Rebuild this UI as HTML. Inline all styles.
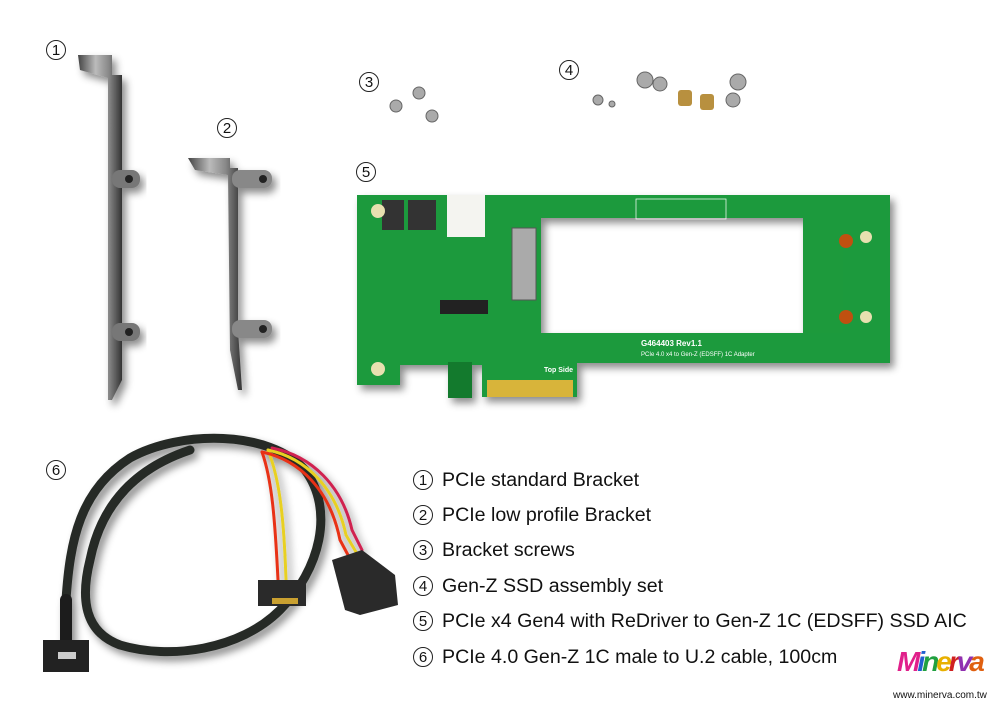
<!DOCTYPE html>
<html><head><style>
body{margin:0;width:1000px;height:707px;background:#fff;overflow:hidden;position:relative;font-family:"Liberation Sans",sans-serif}
.n{position:absolute;font-size:16px;color:#111}
.c{display:inline-block;width:20px;height:20px;border:1.3px solid #222;border-radius:50%;text-align:center;line-height:19px;font-size:15px;box-sizing:border-box}
.li{position:absolute;left:413px;font-size:19.6px;color:#111;white-space:nowrap}
.li .c{margin-right:9px;vertical-align:1px}
</style></head><body>
<svg width="1000" height="707" style="position:absolute;left:0;top:0">
<defs>
<linearGradient id="met" x1="0" x2="1"><stop offset="0" stop-color="#444"/><stop offset=".4" stop-color="#bbb"/><stop offset=".7" stop-color="#888"/><stop offset="1" stop-color="#333"/></linearGradient>
<filter id="sh"><feDropShadow dx="4" dy="5" stdDeviation="4" flood-opacity=".45"/></filter>
</defs>
<g filter="url(#sh)">
<path d="M78 55 L112 55 L112 75 L122 75 L122 380 L112 400 L108 400 L108 78 L80 70 Z" fill="url(#met)"/>
<rect x="112" y="170" width="28" height="18" rx="8" fill="#777"/>
<rect x="112" y="323" width="28" height="18" rx="8" fill="#777"/>
<circle cx="129" cy="179" r="4" fill="#222"/><circle cx="129" cy="332" r="4" fill="#222"/>
</g>
<g filter="url(#sh)">
<path d="M188 158 L230 158 L230 168 L238 168 L238 330 L242 390 L238 390 L230 350 L228 175 L195 170 Z" fill="url(#met)"/>
<rect x="232" y="170" width="40" height="18" rx="8" fill="#888"/>
<rect x="232" y="320" width="40" height="18" rx="8" fill="#888"/>
<circle cx="263" cy="179" r="4" fill="#222"/><circle cx="263" cy="329" r="4" fill="#222"/>
</g>
<g fill="#aaa" stroke="#666">
<circle cx="396" cy="106" r="6"/><circle cx="419" cy="93" r="6"/><circle cx="432" cy="116" r="6"/>
<circle cx="598" cy="100" r="5"/><circle cx="612" cy="104" r="3"/><circle cx="645" cy="80" r="8"/><circle cx="660" cy="84" r="7"/>
<circle cx="738" cy="82" r="8"/><circle cx="733" cy="100" r="7"/>
</g>
<rect x="678" y="90" width="14" height="16" rx="3" fill="#b8903f"/><rect x="700" y="94" width="14" height="16" rx="3" fill="#b8903f"/>
<g filter="url(#sh)">
<path d="M357 195 L890 195 L890 363 L577 363 L577 397 L482 397 L482 365 L472 365 L472 398 L448 398 L448 365 L400 365 L400 385 L357 385 Z M541 218 L541 333 L803 333 L803 218 Z" fill="#1d9a3c" fill-rule="evenodd"/>
</g>
<rect x="448" y="362" width="24" height="36" fill="#137a2d"/>
<rect x="487" y="380" width="86" height="17" fill="#d8b43a"/>
<rect x="803" y="230" width="40" height="103" fill="#1d9a3c"/>
<rect x="447" y="195" width="38" height="42" fill="#f4f4f0"/>
<rect x="512" y="228" width="24" height="72" fill="#aaa" stroke="#555"/>
<rect x="440" y="300" width="48" height="14" fill="#222"/>
<rect x="408" y="200" width="28" height="30" fill="#333"/><rect x="382" y="200" width="22" height="30" fill="#333"/>
<circle cx="378" cy="211" r="7" fill="#e8e0b0"/><circle cx="378" cy="369" r="7" fill="#e8e0b0"/>
<circle cx="846" cy="241" r="7" fill="#c05010"/><circle cx="846" cy="317" r="7" fill="#c05010"/>
<circle cx="866" cy="237" r="6" fill="#e8e0b0"/><circle cx="866" cy="317" r="6" fill="#e8e0b0"/>
<text x="641" y="346" font-size="8" fill="#fff" font-weight="bold" font-family="Liberation Sans">G464403 Rev1.1</text>
<text x="641" y="356" font-size="6" fill="#fff" font-family="Liberation Sans">PCIe 4.0 x4 to Gen-Z (EDSFF) 1C Adapter</text>
<text x="544" y="372" font-size="7" fill="#fff" font-weight="bold" font-family="Liberation Sans">Top Side</text>
<rect x="636" y="199" width="90" height="20" fill="none" stroke="#fff" stroke-width=".7"/>
<!-- cable -->
<g fill="none" stroke-linecap="round" filter="url(#sh)">
<path d="M66 600 C70 540 80 490 130 458 C180 430 270 430 305 470 C335 510 320 570 280 610 C240 650 170 660 120 645 C85 632 80 600 90 560 C100 510 130 470 190 450" stroke="#262a26" stroke-width="9"/>
<path d="M66 600 L66 640" stroke="#1a1a1a" stroke-width="12"/>
<path d="M262 452 C272 480 275 520 278 580" stroke="#e83018" stroke-width="3"/>
<path d="M268 450 C280 480 284 520 286 580" stroke="#e8d020" stroke-width="3"/>
<path d="M262 452 C300 460 330 490 340 540 L348 555" stroke="#e83018" stroke-width="3"/>
<path d="M268 450 C306 458 336 488 346 535 L356 552" stroke="#e8d020" stroke-width="3"/>
<path d="M272 448 C312 456 342 486 352 530 L362 550" stroke="#d02050" stroke-width="3"/>
</g>
<rect x="43" y="640" width="46" height="32" fill="#222"/>
<rect x="58" y="652" width="18" height="7" fill="#ccc"/>
<rect x="258" y="580" width="48" height="26" fill="#2a2a2a"/>
<rect x="272" y="598" width="26" height="6" fill="#c9a030"/>
<path d="M332 560 L362 550 L395 575 L398 605 L360 615 L345 610 Z" fill="#2a2a2a"/>
</svg>
<div class="n" style="left:46px;top:40px"><span class="c">1</span></div>
<div class="n" style="left:217px;top:118px"><span class="c">2</span></div>
<div class="n" style="left:359px;top:72px"><span class="c">3</span></div>
<div class="n" style="left:559px;top:60px"><span class="c">4</span></div>
<div class="n" style="left:356px;top:162px"><span class="c">5</span></div>
<div class="n" style="left:46px;top:460px"><span class="c">6</span></div>
<div class="li" style="top:469px"><span class="c">1</span>PCIe standard Bracket</div>
<div class="li" style="top:504px"><span class="c">2</span>PCIe low profile Bracket</div>
<div class="li" style="top:539px"><span class="c">3</span>Bracket screws</div>
<div class="li" style="top:575px"><span class="c">4</span>Gen-Z SSD assembly set</div>
<div class="li" style="top:610px"><span class="c">5</span>PCIe x4 Gen4 with ReDriver to Gen-Z 1C (EDSFF) SSD AIC</div>
<div class="li" style="top:646px"><span class="c">6</span>PCIe 4.0 Gen-Z 1C male to U.2 cable, 100cm</div>
<div style="position:absolute;left:897px;top:646px;font:italic bold 28px 'Liberation Sans',sans-serif;letter-spacing:-3px"><span style="color:#e0208a">M</span><span style="color:#2060d0">i</span><span style="color:#20a040">n</span><span style="color:#e8b000">e</span><span style="color:#d02020">r</span><span style="color:#9030b0">v</span><span style="color:#e06010">a</span></div>
<div style="position:absolute;left:893px;top:690px;font-size:10px;color:#111">www.minerva.com.tw</div>
</body></html>
